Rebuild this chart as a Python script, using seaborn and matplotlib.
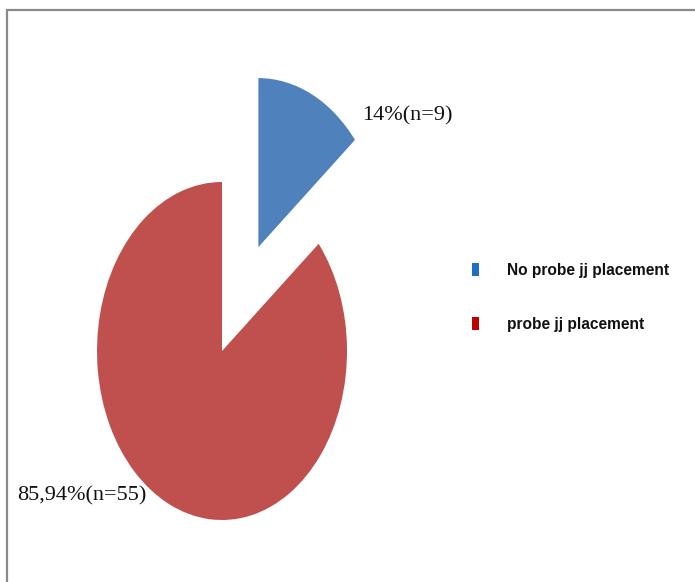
import matplotlib
matplotlib.use("Agg")
import matplotlib.pyplot as plt
from matplotlib.patches import Patch, Rectangle
import seaborn as sns

# Placement outcome counts
categories = ["No probe jj placement", "probe jj placement"]
counts = [9, 55]
slice_labels = ["14%(n=9)", "85,94%(n=55)"]
explode = [0.68, 0.0]

sns.set_theme(style="white")
pie_colors = ["#4F81BD", "#C0504D"]
legend_colors = ["#1F6FC5", "#C00000"]

fig = plt.figure(figsize=(6.95, 5.82), dpi=100)
ax = fig.add_axes([0.1396, 0.1065, 0.3597, 0.5808])

wedges, _ = ax.pie(counts, colors=pie_colors, startangle=90, counterclock=False,
                   explode=explode, radius=1.0,
                   wedgeprops=dict(linewidth=0))
for w in wedges:
    w.set_clip_on(False)
ax.set_xlim(-1, 1)
ax.set_ylim(-1, 1)
ax.set_aspect("auto")
ax.axis("off")

label_pos = [(1.48, 1.39), (-1.12, -0.855)]
for txt, (x, y) in zip(slice_labels, label_pos):
    ax.text(x, y, txt, ha="center", va="center", fontsize=16,
            family=["Liberation Serif", "DejaVu Serif"], color="#111111",
            clip_on=False)

handles = [Patch(facecolor=c, edgecolor="none") for c in legend_colors]
leg = fig.legend(handles, categories, loc="center left",
                 bbox_to_anchor=(0.6674, 0.489), frameon=False,
                 handlelength=0.5, handleheight=0.9, handletextpad=1.75,
                 labelspacing=2.5, borderpad=0,
                 prop=dict(family=["Liberation Sans Narrow", "Liberation Sans", "DejaVu Sans"],
                           weight="bold", size=11.2))
for t in leg.get_texts():
    t.set_color("#111111")

# Frame around the chart area
fig.patches.append(Rectangle((7 / 695, -0.1), 1.2, 0.1 + 572 / 582,
                             transform=fig.transFigure, fill=False,
                             edgecolor="#8a8a8a", linewidth=1.6, clip_on=False))

fig.savefig("out.png", dpi=100)
